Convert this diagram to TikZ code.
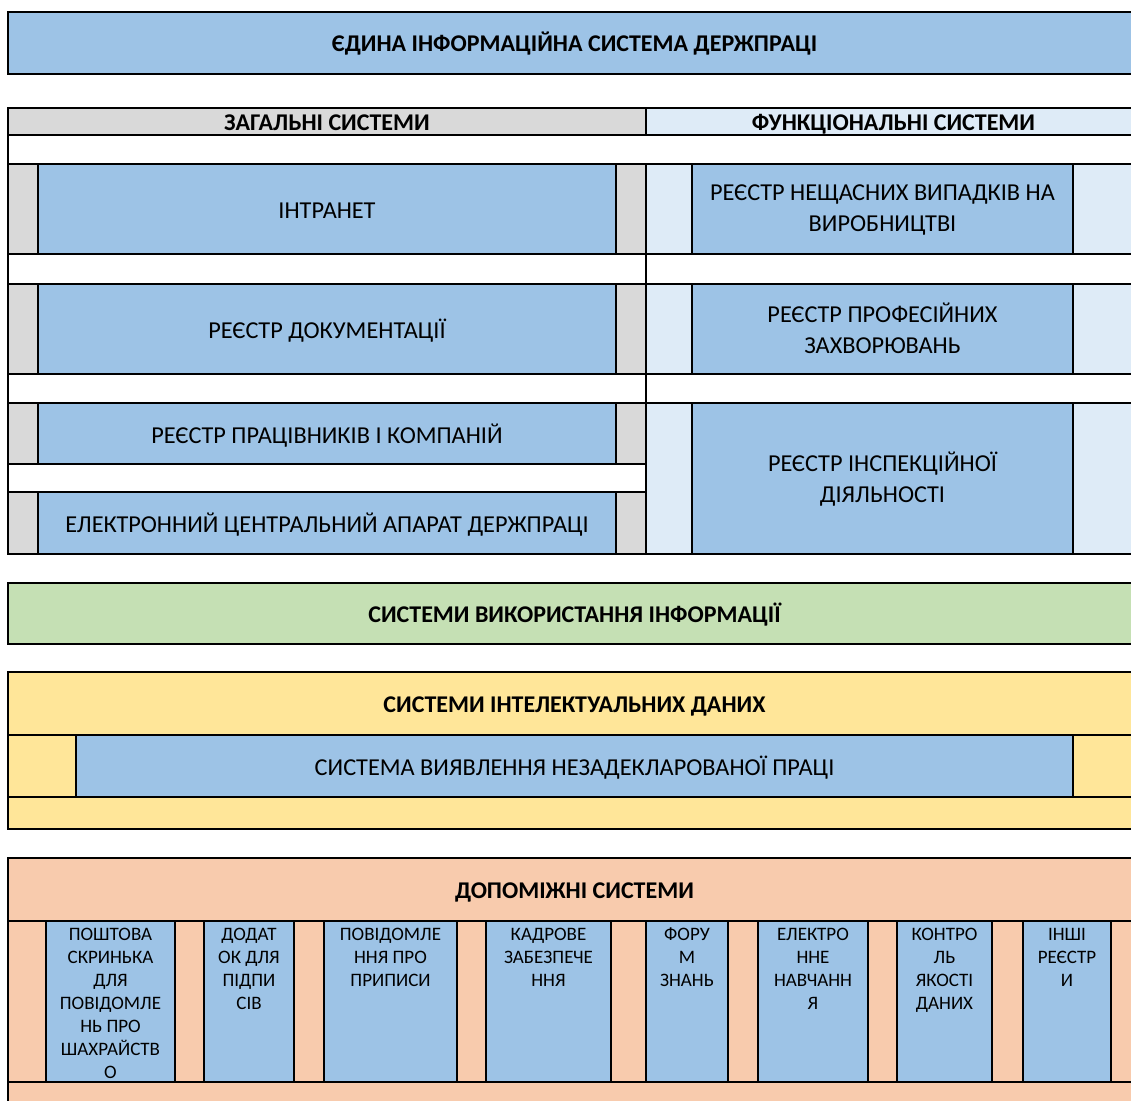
\documentclass[tikz,border=0pt]{standalone}
\usepackage{fontspec}
\setmainfont{Carlito}
\usetikzlibrary{fit}
\definecolor{cellBlue}{HTML}{9DC3E6}
\definecolor{cellGray}{HTML}{D9D9D9}
\definecolor{cellPale}{HTML}{DEEBF7}
\definecolor{cellGreen}{HTML}{C5E0B4}
\definecolor{cellYellow}{HTML}{FFE699}
\definecolor{cellPeach}{HTML}{F8CBAD}
\begin{document}
\begin{tikzpicture}
[x=1pt,y=-1pt,%
  cellDecorate/.style={draw,line width=2.8pt,inner sep=0pt,outer sep=0pt},%
  textDecorate/.style={inner sep=0pt,align=center,yshift=-3.5pt,font=\fontsize{24.3}{31}\selectfont,%
    execute at begin node=\strut,execute at end node=\strut},%
  headDecorate/.style={textDecorate,yshift=1pt,font=\bfseries\fontsize{24}{31}\selectfont},%
  smallDecorate/.style={inner sep=0pt,align=center,font=\fontsize{19}{23}\selectfont}]
\useasboundingbox (0,0) rectangle (1131,1100);
%% top title
\node (title) [cellDecorate,fill=cellBlue,fit={(8,12) (1141,74)}] {};
\node [headDecorate] at (title.center) {ЄДИНА ІНФОРМАЦІЙНА СИСТЕМА ДЕРЖПРАЦІ};
%% headers of the two groups
\node (general) [cellDecorate,fill=cellGray,fit={(8,108) (646,135)}] {};
\node [headDecorate] at (general.center) {ЗАГАЛЬНІ СИСТЕМИ};
\node (functional) [cellDecorate,fill=cellPale,fit={(646,108) (1141,135)}] {};
\node [headDecorate] at (functional.center) {ФУНКЦІОНАЛЬНІ СИСТЕМИ};
\node (gap0) [cellDecorate,fit={(8,135) (1141,164)}] {};
%% general systems
\node (genRow1) [cellDecorate,fill=cellGray,fit={(8,164) (646,254)}] {};
\node (intranet) [cellDecorate,fill=cellBlue,fit={(38,164) (616,254)}] {};
\node [textDecorate] at (intranet.center) {ІНТРАНЕТ};
\node (genGap1) [cellDecorate,fit={(8,254) (646,284)}] {};
\node (genRow2) [cellDecorate,fill=cellGray,fit={(8,284) (646,374)}] {};
\node (docs) [cellDecorate,fill=cellBlue,fit={(38,284) (616,374)}] {};
\node [textDecorate] at (docs.center) {РЕЄСТР ДОКУМЕНТАЦІЇ};
\node (genGap2) [cellDecorate,fit={(8,374) (646,403)}] {};
\node (genRow3) [cellDecorate,fill=cellGray,fit={(8,403) (646,464)}] {};
\node (workers) [cellDecorate,fill=cellBlue,fit={(38,403) (616,464)}] {};
\node [textDecorate] at (workers.center) {РЕЄСТР ПРАЦІВНИКІВ І КОМПАНІЙ};
\node (genGap3) [cellDecorate,fit={(8,464) (646,492)}] {};
\node (genRow4) [cellDecorate,fill=cellGray,fit={(8,492) (646,554)}] {};
\node (office) [cellDecorate,fill=cellBlue,fit={(38,492) (616,554)}] {};
\node [textDecorate] at (office.center) {ЕЛЕКТРОННИЙ ЦЕНТРАЛЬНИЙ АПАРАТ ДЕРЖПРАЦІ};
%% functional systems
\node (funRow1) [cellDecorate,fill=cellPale,fit={(646,164) (1141,254)}] {};
\node (accidents) [cellDecorate,fill=cellBlue,fit={(692,164) (1073,254)}] {};
\node [textDecorate] at (accidents.center) {РЕЄСТР НЕЩАСНИХ ВИПАДКІВ НА\\ВИРОБНИЦТВІ};
\node (funGap1) [cellDecorate,fit={(646,254) (1141,284)}] {};
\node (funRow2) [cellDecorate,fill=cellPale,fit={(646,284) (1141,374)}] {};
\node (diseases) [cellDecorate,fill=cellBlue,fit={(692,284) (1073,374)}] {};
\node [textDecorate] at (diseases.center) {РЕЄСТР ПРОФЕСІЙНИХ\\ЗАХВОРЮВАНЬ};
\node (funGap2) [cellDecorate,fit={(646,374) (1141,403)}] {};
\node (funRow3) [cellDecorate,fill=cellPale,fit={(646,403) (1141,554)}] {};
\node (inspect) [cellDecorate,fill=cellBlue,fit={(692,403) (1073,554)}] {};
\node [textDecorate] at (inspect.center) {РЕЄСТР ІНСПЕКЦІЙНОЇ\\ДІЯЛЬНОСТІ};
%% information use
\node (usage) [cellDecorate,fill=cellGreen,fit={(8,583) (1141,644)}] {};
\node [headDecorate] at (usage.center) {СИСТЕМИ ВИКОРИСТАННЯ ІНФОРМАЦІЇ};
%% intelligence
\node (intel) [cellDecorate,fill=cellYellow,fit={(8,672) (1141,735)}] {};
\node [headDecorate] at (intel.center) {СИСТЕМИ ІНТЕЛЕКТУАЛЬНИХ ДАНИХ};
\node (intelRow) [cellDecorate,fill=cellYellow,fit={(8,735) (1141,797)}] {};
\node (undeclared) [cellDecorate,fill=cellBlue,fit={(76,735) (1073,797)}] {};
\node [textDecorate] at (undeclared.center) {СИСТЕМА ВИЯВЛЕННЯ НЕЗАДЕКЛАРОВАНОЇ ПРАЦІ};
\node (intelFoot) [cellDecorate,fill=cellYellow,fit={(8,797) (1141,829)}] {};
%% auxiliary systems
\node (aux) [cellDecorate,fill=cellPeach,fit={(8,858) (1141,921)}] {};
\node [headDecorate] at (aux.center) {ДОПОМІЖНІ СИСТЕМИ};
\node (auxRow) [cellDecorate,fill=cellPeach,fit={(8,921) (1141,1082)}] {};
\node (auxFoot) [cellDecorate,fill=cellPeach,fit={(8,1082) (1141,1120)}] {};
\foreach \xa/\xb/\nm/\txt in {%
  46/175/mail/{ПОШТОВА\\СКРИНЬКА\\ДЛЯ\\ПОВІДОМЛЕ\\НЬ ПРО\\ШАХРАЙСТВ\\О},%
  204/294/sign/{ДОДАТ\\ОК ДЛЯ\\ПІДПИ\\СІВ},%
  324/457/orders/{ПОВІДОМЛЕ\\ННЯ ПРО\\ПРИПИСИ},%
  486/611/staff/{КАДРОВЕ\\ЗАБЕЗПЕЧЕ\\ННЯ},%
  646/728/forum/{ФОРУ\\М\\ЗНАНЬ},%
  758/868/learn/{ЕЛЕКТРО\\ННЕ\\НАВЧАНН\\Я},%
  897/992/quality/{КОНТРО\\ЛЬ\\ЯКОСТІ\\ДАНИХ},%
  1023/1111/other/{ІНШІ\\РЕЄСТР\\И}}
{
  \node (\nm) [cellDecorate,fill=cellBlue,fit={(\xa,921) (\xb,1082)}] {};
  \node [smallDecorate,anchor=north] at ([yshift=-7pt]\nm.north) {\txt};
}
\end{tikzpicture}
\end{document}
